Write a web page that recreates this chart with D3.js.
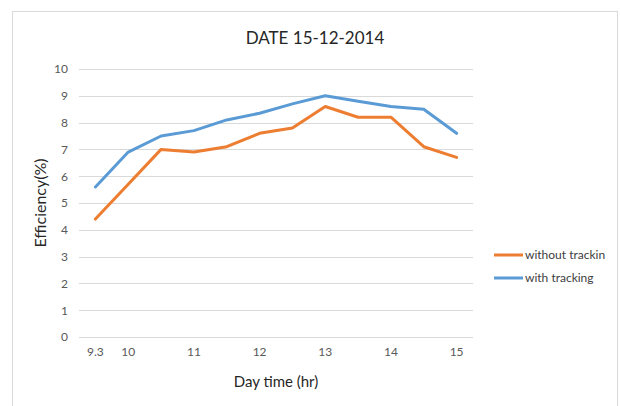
<!DOCTYPE html>
<html><head><meta charset="utf-8">
<script src="https://cdn.jsdelivr.net/npm/d3@7"></script>
<style>body{margin:0;background:#fff}svg{display:block}text{font-family:Lato,"Open Sans",sans-serif}</style>
</head><body><svg id="c" width="620" height="406"></svg>
<script>
const categories = ["9.3","10","10.5","11","11.5","12","12.5","13","13.5","14","14.5","15"];
const tickLabels = ["9.3","10","","11","","12","","13","","14","","15"];
const withoutTracking = [4.4,5.7,7.0,6.9,7.1,7.6,7.8,8.6,8.2,8.2,7.1,6.7];
const withTracking = [5.6,6.9,7.5,7.7,8.1,8.35,8.7,9.0,8.8,8.6,8.5,7.6];
const yTicks = [0,1,2,3,4,5,6,7,8,9,10];
const seriesNames = ["without trackin","with tracking"];
const colors = ["#ED7D31","#5B9BD5"];

const svg = d3.select("#c");
svg.append("rect").attr("x",12.5).attr("y",11.5).attr("width",605).attr("height",400)
  .attr("fill","#fff").attr("stroke","#D9D9D9").attr("stroke-width",1);

const x = d3.scaleBand().domain(categories).range([79,473]);
const y = d3.scaleLinear().domain([0,10]).range([337,69]);

// gridlines
svg.append("g").selectAll("line").data(yTicks).join("line")
  .attr("x1",79).attr("x2",473).attr("y1",d=>Math.round(y(d))+0.5).attr("y2",d=>Math.round(y(d))+0.5)
  .attr("stroke","#D9D9D9").attr("stroke-width",1);

// y axis labels
const yAxis = d3.axisLeft(y).tickValues(yTicks).tickSize(0).tickPadding(11);
const gy = svg.append("g").attr("transform","translate(79,0)").call(yAxis);
gy.select(".domain").remove();
gy.selectAll("text").attr("fill","#595959").style("font-size","12px").style("font-family","Lato,sans-serif");

// x axis labels
const xAxis = d3.axisBottom(x).tickFormat((d,i)=>tickLabels[i]).tickSize(0).tickPadding(10);
const gx = svg.append("g").attr("transform","translate(0,337)").call(xAxis);
gx.select(".domain").remove();
gx.selectAll("text").attr("fill","#595959").style("font-size","12px").style("font-family","Lato,sans-serif");

// lines
const line = d3.line().x((d,i)=>x(categories[i])+x.bandwidth()/2).y(d=>y(d));
[withoutTracking, withTracking].forEach((s,k)=>{
  svg.append("path").datum(s).attr("d",line).attr("fill","none")
    .attr("stroke",colors[k]).attr("stroke-width",3).attr("stroke-linejoin","round").attr("stroke-linecap","round");
});

// title
svg.append("text").attr("x",315).attr("y",44).attr("text-anchor","middle")
  .attr("fill","#262626").style("font-size","17px").text("DATE 15-12-2014");

// axis titles
svg.append("text").attr("x",276).attr("y",387).attr("text-anchor","middle")
  .attr("fill","#262626").style("font-size","15px").text("Day time (hr)");
svg.append("text").attr("transform","translate(46,203) rotate(-90)").attr("text-anchor","middle")
  .attr("fill","#262626").style("font-size","16px").text("Efficiency(%)");

// legend
seriesNames.forEach((n,k)=>{
  const ly = 255 + k*23;
  svg.append("line").attr("x1",494).attr("x2",523).attr("y1",ly).attr("y2",ly)
    .attr("stroke",colors[k]).attr("stroke-width",3);
  svg.append("text").attr("x",525).attr("y",ly+4).attr("fill","#404040")
    .style("font-size","12px").text(n);
});
</script></body></html>
